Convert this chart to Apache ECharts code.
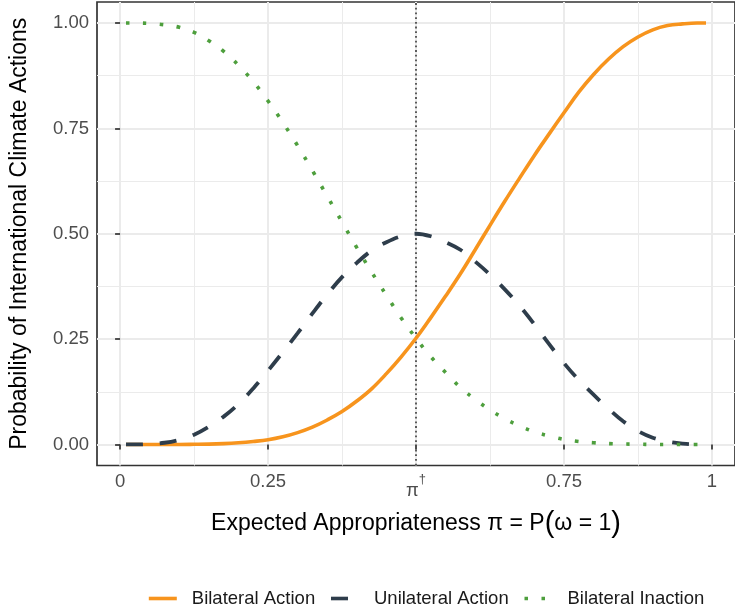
<!DOCTYPE html>
<html>
<head>
<meta charset="utf-8">
<script src="https://cdn.jsdelivr.net/npm/echarts@6/dist/echarts.min.js"></script>
<style>
html,body{margin:0;padding:0;background:#fff;}
#chart{width:735px;height:613px;}
</style>
</head>
<body>
<div id="chart"></div>
<script>
// ---- data ----
const xs = [0.01,0.025,0.05,0.075,0.1,0.125,0.15,0.175,0.2,0.225,0.25,0.275,0.3,0.325,0.35,0.375,0.4,0.425,0.45,0.475,0.5,0.525,0.55,0.575,0.6,0.625,0.65,0.675,0.7,0.725,0.75,0.775,0.8,0.825,0.85,0.875,0.9,0.925,0.95,0.975,0.99];
const bilateralAction = [0,0,0,0,0,0.0003,0.0008,0.002,0.004,0.007,0.011,0.018,0.028,0.041,0.058,0.078,0.103,0.132,0.168,0.208,0.252,0.301,0.352,0.405,0.462,0.520,0.577,0.632,0.686,0.737,0.787,0.836,0.878,0.914,0.944,0.967,0.984,0.994,0.998,1.0,1.0];
const unilateralAction = [0,0,0.001,0.004,0.011,0.023,0.042,0.066,0.096,0.133,0.175,0.219,0.264,0.311,0.356,0.397,0.431,0.460,0.480,0.494,0.500,0.494,0.480,0.462,0.434,0.403,0.368,0.329,0.285,0.238,0.193,0.153,0.118,0.085,0.055,0.032,0.016,0.007,0.002,0,0];
const bilateralInaction = [1.0,1.0,0.999,0.996,0.990,0.978,0.958,0.933,0.900,0.861,0.815,0.764,0.709,0.650,0.589,0.528,0.467,0.409,0.354,0.300,0.252,0.208,0.171,0.135,0.107,0.082,0.061,0.044,0.030,0.020,0.012,0.007,0.004,0.002,0.001,0.0005,0,0,0,0,0];
const seriesNames = ['Bilateral Action','Unilateral Action','Bilateral Inaction'];
const xTickValues = [0,0.25,0.5,0.75,1];
const xTickLabels = ['0','0.25','{pi|π}{sup|†}','0.75','1'];
const xMinorValues = [0.125,0.375,0.625,0.875];
const yTickValues = [0,0.25,0.5,0.75,1];
const yTickLabels = ['0.00','0.25','0.50','0.75','1.00'];
const yMinorValues = [0.125,0.375,0.625,0.875];
const vlineX = 0.5;

const pairs = ys => xs.map((x,i)=>[x, ys[i]]);
const FONT = '"Liberation Sans", Arial, Helvetica, sans-serif';
const GRID_COL = '#EBEBEB';
const AX_COL = '#333333';

const chart = echarts.init(document.getElementById('chart'), null, {renderer:'canvas'});
chart.setOption({
  animation:false,
  backgroundColor:'#ffffff',
  textStyle:{fontFamily:FONT},
  grid:{left:97, top:2, width:641, height:463.5, show:true, borderColor:AX_COL, borderWidth:1.7, backgroundColor:'#fff'},
  legend:{
    left:147, top:589, padding:0, itemWidth:28, itemHeight:14, itemGap:14,
    textStyle:{fontFamily:FONT, fontSize:18.5, color:'#1a1a1a', padding:[0,0,0,10]},
    lineStyle:{width:3.6},
    itemStyle:{opacity:0, borderWidth:0},
    data:seriesNames
  },
  xAxis:[{
    type:'value', min:-0.039, max:1.039, position:'bottom',
    axisLine:{show:false},
    axisTick:{show:true, length:5, customValues:xTickValues, lineStyle:{color:AX_COL, width:1.7}},
    axisLabel:{show:true, customValues:xTickValues, margin:7, color:'#4D4D4D', fontFamily:FONT, fontSize:18.5,
      formatter:function(v){ const i = xTickValues.findIndex(t=>Math.abs(t-v)<1e-9); return i>=0 ? xTickLabels[i] : ''; },
      rich:{
        pi:{fontFamily:FONT, fontSize:18.5, color:'#4D4D4D', verticalAlign:'bottom', lineHeight:28},
        sup:{fontFamily:FONT, fontSize:13, color:'#4D4D4D', verticalAlign:'top', lineHeight:28}
      }},
    splitLine:{show:true, lineStyle:{color:GRID_COL, width:2}},
    name:'{t|Expected Appropriateness π = P}{p|(}{t|ω = 1}{p|)}', nameLocation:'middle', nameGap:44,
    nameTextStyle:{fontFamily:FONT, fontSize:23, color:'#000',
      rich:{t:{fontFamily:FONT, fontSize:23, color:'#000'}, p:{fontFamily:FONT, fontSize:29, color:'#000'}}}
  },{
    type:'value', min:-0.039, max:1.039, position:'bottom',
    axisLine:{show:false}, axisLabel:{show:false},
    axisTick:{show:false, customValues:xMinorValues},
    splitLine:{show:true, lineStyle:{color:GRID_COL, width:1}}
  }],
  yAxis:[{
    type:'value', min:-0.05, max:1.05, position:'left',
    axisLine:{show:false},
    axisTick:{show:true, length:5, customValues:yTickValues, lineStyle:{color:AX_COL, width:1.7}},
    axisLabel:{show:true, customValues:yTickValues, margin:8, color:'#4D4D4D', fontFamily:FONT, fontSize:18.5,
      formatter:function(v){ const i = yTickValues.findIndex(t=>Math.abs(t-v)<1e-9); return i>=0 ? yTickLabels[i] : ''; }},
    splitLine:{show:true, lineStyle:{color:GRID_COL, width:2}},
    name:'Probability of International Climate Actions', nameLocation:'middle', nameGap:66, nameRotate:90,
    nameTextStyle:{fontFamily:FONT, fontSize:23, color:'#000'}
  },{
    type:'value', min:-0.05, max:1.05, position:'left',
    axisLine:{show:false}, axisLabel:{show:false},
    axisTick:{show:false, customValues:yMinorValues},
    splitLine:{show:true, lineStyle:{color:GRID_COL, width:1}}
  }],
  series:[
    {
      name:seriesNames[0], type:'line', data:pairs(bilateralAction), xAxisIndex:0, yAxisIndex:0,
      symbol:'none', showSymbol:false, smooth:0.4, clip:false, z:3,
      lineStyle:{color:'#F7941D', width:3.6, type:'solid'}, itemStyle:{color:'#F7941D'},
      markLine:{silent:true, symbol:'none', label:{show:false}, z:2,
        lineStyle:{color:'#4d4d4d', width:1.8, type:[1.8,2.9]},
        data:[{xAxis:vlineX}]}
    },
    {
      name:seriesNames[1], type:'line', data:pairs(unilateralAction), xAxisIndex:0, yAxisIndex:0,
      symbol:'none', showSymbol:false, smooth:0.4, clip:false, z:3,
      lineStyle:{color:'#2E3D4B', width:3.8, type:[17,17], cap:'butt'}, itemStyle:{color:'#2E3D4B'}
    },
    {
      name:seriesNames[2], type:'line', data:pairs(bilateralInaction), xAxisIndex:0, yAxisIndex:0,
      symbol:'none', showSymbol:false, smooth:0.4, clip:false, z:3,
      lineStyle:{color:'#4E9F3D', width:3.6, type:[3.5,13.5], cap:'butt'}, itemStyle:{color:'#4E9F3D'}
    }
  ]
});
</script>
</body>
</html>
